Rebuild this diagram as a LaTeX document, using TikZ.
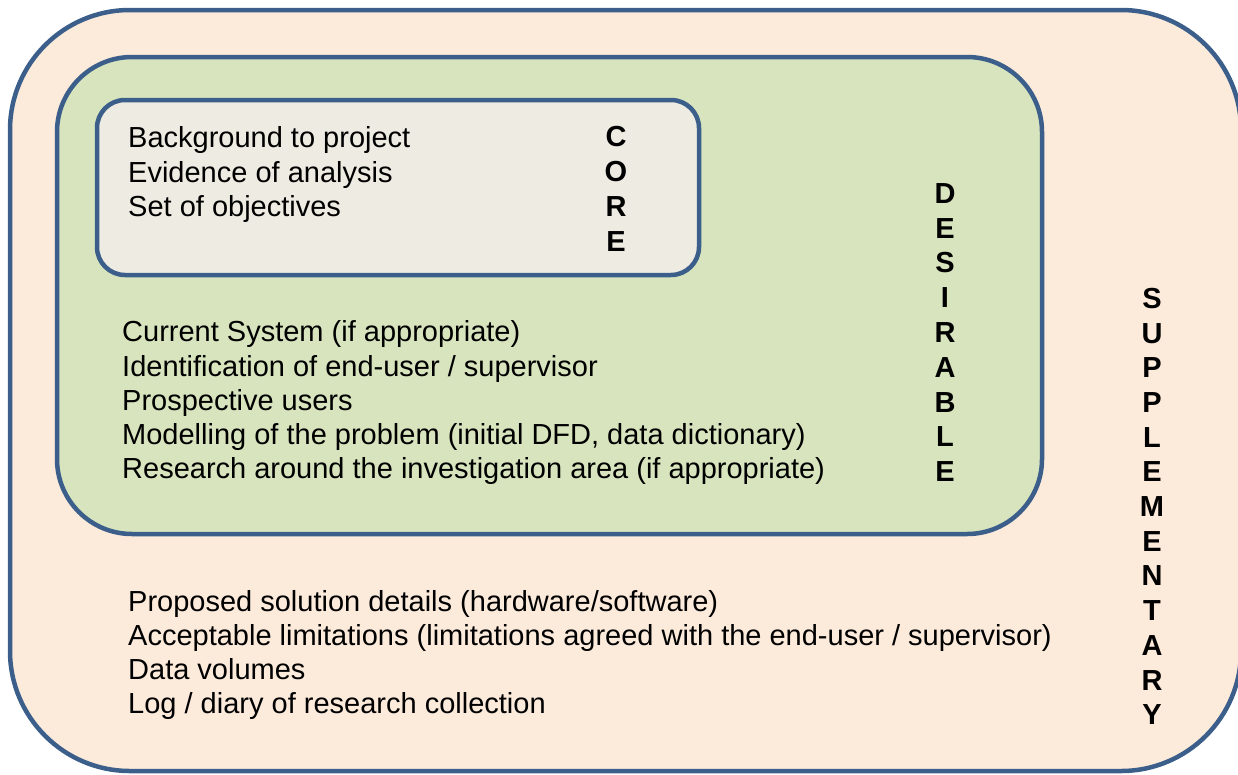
\documentclass[tikz,border=0pt]{standalone}
\usepackage{fontspec}
\setmainfont{Liberation Sans}
\usepackage{xcolor}
\definecolor{rimblue}{HTML}{3B5F8A}
\definecolor{suppfill}{HTML}{FCEADB}
\definecolor{desfill}{HTML}{D7E4BD}
\definecolor{corefill}{HTML}{EEECE2}

\begin{document}
\begin{tikzpicture}[x=1pt,y=-1pt,
    zone/.style={draw=rimblue,line width=4.5pt},
    item/.style={anchor=base west,inner sep=0pt,font=\fontsize{29}{34}\selectfont},
    vlet/.style={anchor=base,inner sep=0pt,font=\fontsize{29}{34}\selectfont\bfseries}]
  \useasboundingbox (0,0) rectangle (1238,774);
  \clip (0,0) rectangle (1238,774);
  \draw[zone,fill=suppfill,rounded corners=120pt] (10,10) rectangle (1241,771);
  \draw[zone,fill=desfill,rounded corners=75pt] (57,57) rectangle (1042,534);
  \draw[zone,fill=corefill,rounded corners=28pt] (97,100) rectangle (699,275);
  \foreach \t [count=\i from 0] in {Background to project,Evidence of analysis,Set of objectives}
    \node[item] (core\i) at (128,147.7+34.5*\i) {\t};
  \foreach \t [count=\i from 0] in {Current System (if appropriate),
      Identification of end-user / supervisor,Prospective users,
      {Modelling of the problem (initial DFD, data dictionary)},
      Research around the investigation area (if appropriate)}
    \node[item] (des\i) at (122,341.7+34.3*\i) {\t};
  \foreach \t [count=\i from 0] in {Proposed solution details (hardware/software),
      Acceptable limitations (limitations agreed with the end-user / supervisor),
      Data volumes,Log / diary of research collection}
    \node[item] (sup\i) at (128,611.7+34*\i) {\t};
  \foreach \l [count=\i from 0] in {C,O,R,E}
    \node[vlet] (corel\i) at (616,146.7+35*\i) {\l};
  \foreach \l [count=\i from 0] in {D,E,S,I,R,A,B,L,E}
    \node[vlet] (desl\i) at (945,203.3+34.8*\i) {\l};
  \foreach \l [count=\i from 0] in {S,U,P,P,L,E,M,E,N,T,A,R,Y}
    \node[vlet] (supl\i) at (1152,308.3+34.7*\i) {\l};
\end{tikzpicture}
\end{document}
